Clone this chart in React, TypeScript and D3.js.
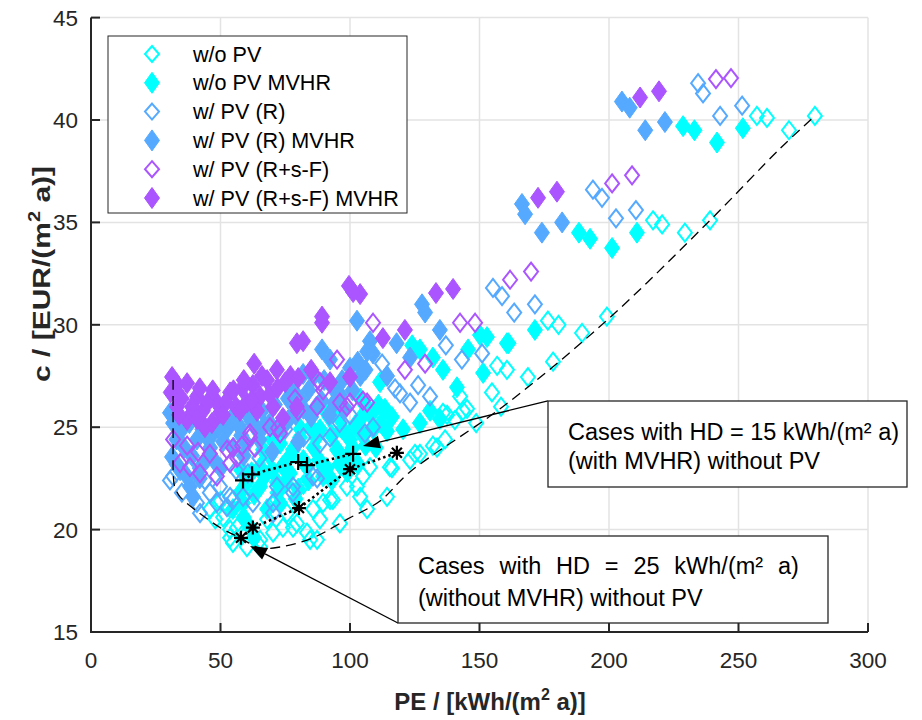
import React, { useEffect, useRef } from 'react';
import * as d3 from 'd3';

type Pt = [number, number];

const xTicks = [0, 50, 100, 150, 200, 250, 300];
const yTicks = [15, 20, 25, 30, 35, 40, 45];

// w/o PV (hollow cyan)
const woPV: Pt[] = [
  [257.1, 40.2], [261, 40.1], [269.5, 39.5], [279.5, 40.2],
  [217, 35.1], [220.5, 34.9], [229.3, 34.5], [239, 35.1],
  [176.4, 30.2], [180.5, 30.0], [189.6, 29.6], [199.2, 30.4], [178.4, 28.2], [168.7, 27.45],
  [156.8, 28.0], [160.6, 27.8], [154.8, 26.7], [158.3, 26.0], [148.7, 25.2], [142.5, 26.5],
  [135.9, 25.7], [143.6, 25.8], [137.5, 25.6], [140.5, 25.35], [132, 24.1], [136.7, 24.4],
  [125.1, 23.7], [133.6, 24.0], [116.2, 23.0], [123.2, 23.4], [145.2, 25.9], [127, 23.7],
  [115.4, 23.05], [114.3, 21.6], [106.6, 21.0],
  [51, 20.6], [56.4, 20.1], [53.7, 20.0], [58.7, 19.8], [54.8, 19.35], [60.2, 19.15],
  [53.7, 19.6], [65.3, 19.15], [70.3, 19.85], [78, 20.1], [84.6, 19.5], [88.4, 20.5],
  [96.1, 20.3], [93.4, 21.45], [103.9, 21.6], [107.7, 23.05], [98.8, 22.1], [68, 20.5],
  [75.7, 20.8], [85.7, 21.0], [71.8, 21.45], [89.6, 21.3], [92.3, 21.45], [102.7, 22.1],
  [79.5, 20.3], [83.4, 19.85], [87.3, 19.5], [74.1, 20.1], [65.3, 19.5], [105, 22.6],
  [46, 21.0], [48, 20.5], [50, 21.4], [95, 22.9], [99, 23.3], [82, 22.2],
];

// w/o PV MVHR (filled cyan)
const woPVMvhr: Pt[] = [
  [228.6, 39.7], [233, 39.5], [241.7, 38.9], [251.7, 39.6],
  [188.4, 34.5], [192.7, 34.2], [201.2, 33.75], [210.8, 34.5],
  [150.2, 29.5], [152.9, 29.4], [171.4, 29.75], [161.2, 29.1], [151.4, 27.65], [141.3, 26.95],
  [127, 28.8], [132, 28.4], [135.9, 27.8], [124, 29.0], [111.6, 27.2], [113.5, 25.9],
  [145.6, 28.8], [130.9, 25.8], [134.7, 25.4], [127, 25.2], [120.5, 24.9], [114.3, 24.8],
  [116.2, 25.5], [160.6, 29.1],
  [88.4, 24.9], [80.7, 24.5], [73, 24.2], [66.4, 23.9], [95, 23.9], [83.4, 23.05],
  [76.8, 22.75], [71.8, 22.3], [89.6, 22.6], [98.8, 23.55], [65.3, 23.05], [65.3, 22.1],
  [68, 21.0], [73, 21.3], [61.4, 20.1], [57.5, 21.8], [58.7, 21.3], [54.8, 21.0],
  [60.2, 22.3], [105, 24.6], [108, 25.6], [102, 25.1], [92, 25.5], [77, 23.6], [86, 24.0],
  [70, 22.9], [62, 22.8], [80, 22.0], [93, 22.4], [100, 24.4], [110, 24.0], [63, 19.6], [59, 20.6],
  [58, 22.9], [63, 21.7], [67, 22.6], [69, 23.6], [72, 21.8], [74, 23.1], [78, 23.9], [79, 21.5],
  [82, 23.4], [84, 22.4], [87, 24.5], [88, 23.4], [91, 23.0], [93, 24.6], [96, 23.2], [97, 24.9],
  [99, 22.8], [101, 24.0], [103, 23.2], [104, 25.4], [106, 24.1], [107, 25.9], [109, 24.9],
  [111, 26.1], [112, 25.2], [85, 25.0], [75, 22.3], [90, 25.9], [95, 25.6], [81, 24.9],
  [70, 24.4], [104, 26.4],
];

// w/ PV (R) (hollow blue)
const wPVR: Pt[] = [
  [234.4, 41.8], [236.3, 41.3], [242.9, 40.2], [251.4, 40.7],
  [193.8, 36.6], [197.3, 36.2], [202.7, 35.2], [210.4, 35.6],
  [155.2, 31.8], [158.7, 31.4], [163.4, 30.6], [171.4, 31.0], [143.2, 28.3], [137, 29.0],
  [151, 28.6], [112.4, 28.1], [126.3, 27.05], [117.4, 26.9], [119.3, 26.65], [123.2, 26.2],
  [130.9, 26.5], [108.9, 25.0], [105.8, 24.7],
  [60.6, 22.75], [88.4, 24.2], [92.3, 24.5], [87.3, 22.5], [78, 22.1], [70.3, 21.3],
  [58.7, 21.6], [62.5, 21.3], [31.7, 22.6], [35.1, 21.8], [40.9, 21.3], [42.1, 20.8],
  [45.9, 21.8], [49.8, 22.1], [53.7, 21.6], [48.6, 21.3], [52.5, 21.1], [54.8, 21.45],
  [70.3, 20.8], [78, 21.8], [85.7, 22.6], [71.8, 22.1], [30.5, 22.4],
  [38, 22.9], [44, 22.4], [56, 22.9], [65, 23.5], [75, 24.9], [82, 24.5], [96, 25.2], [100, 25.6],
];

// w/ PV (R) MVHR (filled blue)
const wPVRMvhr: Pt[] = [
  [205, 40.9], [208, 40.6], [214, 39.5], [221.6, 39.9],
  [166.4, 35.9], [167.6, 35.4], [174.1, 34.5], [181.9, 35.0],
  [127.8, 31.0], [129, 30.6], [134.7, 29.75], [118, 29.1], [107.7, 29.2], [106.6, 28.7],
  [108.9, 28.6], [114.3, 27.5], [123.2, 28.4],
  [102.7, 30.2], [89.2, 28.8], [92.3, 28.3], [81.9, 27.6], [96.1, 26.6],
  [30.5, 25.7], [31.7, 25.2], [35.1, 24.9], [40.9, 24.4], [47.1, 24.7], [52.5, 24.9],
  [57.5, 25.0], [31.3, 23.55], [34.4, 22.9], [38.2, 22.1], [39.4, 21.6], [44.8, 24.5],
  [62, 25.3], [67, 25.1], [72, 24.9], [77, 25.5], [82, 25.9], [87, 26.0], [92, 25.6],
  [98, 25.9], [104, 27.5], [100, 27.9], [84, 26.8], [65, 24.4], [55, 24.0], [45, 23.5],
  [50, 23.0], [60, 24.2], [70, 23.8], [80, 24.3], [42, 22.5], [36, 24.0], [93, 27.0], [76, 26.4],
  [33, 24.4], [38, 25.2], [39, 23.6], [43, 24.9], [46, 24.0], [49, 25.0], [51, 24.3], [54, 25.4],
  [58, 24.6], [61, 25.5], [64, 24.9], [66, 25.8], [69, 25.2], [71, 26.1], [74, 25.0], [79, 25.6],
  [81, 26.3], [85, 25.5], [89, 26.3], [90, 27.3], [94, 26.2], [97, 27.3], [101, 26.8], [103, 28.2],
  [106, 27.8], [86, 27.5], [78, 26.8], [59, 23.6], [48, 23.3], [42, 23.0], [37, 22.6], [33, 23.2],
];

// w/ PV (R+s-F) (hollow purple)
const wPVRsF: Pt[] = [
  [241.3, 42.0], [247.1, 42.05],
  [201.2, 36.9], [208.9, 37.3],
  [161.8, 32.2], [169.9, 32.6], [142.5, 30.1], [148.3, 30.1], [108.9, 30.1], [129, 28.1],
  [121.2, 27.8], [106.6, 26.2],
  [95, 28.3], [87.6, 27.3], [89.6, 26.8], [78.8, 26.4], [79.9, 25.8], [96.1, 26.2],
  [100, 26.2], [87.3, 26.0], [72.2, 24.95], [61.4, 24.7], [63.3, 24.0], [58.3, 24.1],
  [31.7, 24.4], [37.1, 24.1], [34.4, 23.25], [38.2, 23.05], [42.1, 22.75], [41.3, 23.8],
  [45.9, 23.7], [52.5, 23.9], [56.4, 23.5], [48.6, 22.6], [53.7, 23.25],
  [69.1, 25.0], [73, 24.7], [88.4, 27.2], [98.8, 26.0], [105, 26.3], [54.8, 24.0], [61.4, 24.5],
];

// w/ PV (R+s-F) MVHR (filled purple)
const wPVRsFMvhr: Pt[] = [
  [212, 41.1], [219.3, 41.4],
  [172.6, 36.2], [179.9, 36.5],
  [133.2, 31.55], [139.8, 31.75], [121.2, 29.75], [112.7, 29.35], [103.9, 31.5],
  [99.6, 31.9], [101.2, 31.6], [89.2, 30.1], [89.2, 30.4], [81.9, 29.2], [79.5, 29.1],
  [71.8, 27.8], [62.5, 27.06], [65.3, 26.5], [60.2, 26.2], [64.1, 25.8], [70.3, 26.0],
  [79.5, 26.0], [74.1, 25.45], [100, 27.45], [92.3, 27.2],
  [31.3, 27.45], [33.2, 27.1], [37.1, 27.15], [40.9, 26.5], [43.2, 25.8], [46.7, 25.2],
  [49.8, 25.7], [53.7, 26.7], [58.3, 26.9], [48.6, 26.2], [33.2, 26.0], [37.1, 25.35],
  [44, 25], [52, 26.2], [56, 26.0], [68, 27.3], [75, 27.2], [85, 27.8], [57.5, 25.8], [30.8, 26.7],
  [35, 26.4], [39, 26.0], [42, 26.9], [45, 26.2], [47, 26.8], [51, 25.6], [55, 26.8], [59, 27.3],
  [62, 26.3], [66, 27.5], [69, 26.6], [72, 26.9], [77, 27.5], [34, 25.6], [41, 25.4], [63, 28.1],
  [80, 27.4],
];

// Pareto front (dashed)
const pareto: Pt[] = [
  [31.7, 27.3], [31.7, 24.5], [31.8, 22.6], [32.3, 22.1], [34.4, 21.6], [40.9, 20.9],
  [49.8, 20.1], [57.5, 19.6], [65.3, 19.1], [73, 19.15], [85.7, 19.6], [98.8, 20.5],
  [111.6, 21.4], [123, 22.8], [159, 26.0], [199, 30.2], [239, 35.1], [266, 38.6], [279.5, 40.2],
];

// HD = 15 with MVHR (+) and HD = 25 without MVHR (*)
const hd15: Pt[] = [[58.7, 22.4], [62.2, 22.7], [80, 23.3], [83.4, 23.15], [101.2, 23.7]];
const hd25: Pt[] = [[57.9, 19.6], [62.5, 20.1], [80.3, 21.05], [100, 22.95], [118.1, 23.75]];

// arrow tips / tails in data units
const arrow15 = { from: [176.4, 26.28] as Pt, to: [105, 24.08] as Pt };
const arrow25 = { from: [118.5, 15.44] as Pt, to: [61.4, 19.2] as Pt };

const series = [
  { name: 'w/o PV', color: '#00ffff', filled: false, data: woPV },
  { name: 'w/o PV MVHR', color: '#00ffff', filled: true, data: woPVMvhr },
  { name: 'w/ PV (R)', color: '#55aaff', filled: false, data: wPVR },
  { name: 'w/ PV (R) MVHR', color: '#55aaff', filled: true, data: wPVRMvhr },
  { name: 'w/ PV (R+s-F)', color: '#aa55ff', filled: false, data: wPVRsF },
  { name: 'w/ PV (R+s-F) MVHR', color: '#aa55ff', filled: true, data: wPVRsFMvhr },
];

const FONT = '"Liberation Sans", Arial, Helvetica, sans-serif';
const INK = '#262626';

function diamond(w: number, h: number) {
  return `M0,${-h}L${w},0L0,${h}L${-w},0Z`;
}

export default function App() {
  const svgRef = useRef<SVGSVGElement>(null);

  useEffect(() => {
    const width = 922;
    const height = 720;
    const svg = d3.select(svgRef.current);
    svg.selectAll('*').remove();
    svg.attr('width', width).attr('height', height);

    const x = d3.scaleLinear().domain([0, 300]).range([91, 868]);
    const y = d3.scaleLinear().domain([15, 45]).range([632, 17.6]);

    svg.append('rect').attr('width', width).attr('height', height).attr('fill', '#fff');

    // grid
    const grid = svg.append('g').attr('stroke', '#e3e3e3').attr('stroke-width', 1.5);
    xTicks.slice(1).forEach(t => {
      grid.append('line').attr('x1', x(t)).attr('x2', x(t)).attr('y1', y(15)).attr('y2', y(45));
    });
    yTicks.slice(1).forEach(t => {
      grid.append('line').attr('x1', x(0)).attr('x2', x(300)).attr('y1', y(t)).attr('y2', y(t));
    });

    // markers
    const marks = svg.append('g');
    series.forEach(s => {
      marks.append('g')
        .selectAll('path')
        .data(s.data)
        .enter()
        .append('path')
        .attr('transform', d => `translate(${x(d[0])},${y(d[1])})`)
        .attr('d', s.filled ? diamond(7.5, 10.5) : diamond(7, 9))
        .attr('fill', s.filled ? s.color : 'none')
        .attr('stroke', s.color)
        .attr('stroke-width', s.filled ? 1 : 2);
    });

    // pareto dashed line
    svg.append('path')
      .datum(pareto)
      .attr('d', d3.line<Pt>().x(d => x(d[0])).y(d => y(d[1])).curve(d3.curveCatmullRom))
      .attr('fill', 'none')
      .attr('stroke', '#000')
      .attr('stroke-width', 1.3)
      .attr('stroke-dasharray', '10,6');

    // dotted HD lines
    [hd15, hd25].forEach(d => {
      svg.append('path')
        .datum(d)
        .attr('d', d3.line<Pt>().x(p => x(p[0])).y(p => y(p[1])))
        .attr('fill', 'none')
        .attr('stroke', '#000')
        .attr('stroke-width', 2.6)
        .attr('stroke-dasharray', '2.5,3');
    });

    // + markers
    svg.append('g').selectAll('path').data(hd15).enter().append('path')
      .attr('transform', d => `translate(${x(d[0])},${y(d[1])})`)
      .attr('d', 'M-8,0H8M0,-8V8')
      .attr('stroke', '#000').attr('stroke-width', 2.2);

    // * markers
    svg.append('g').selectAll('path').data(hd25).enter().append('path')
      .attr('transform', d => `translate(${x(d[0])},${y(d[1])})`)
      .attr('d', 'M-7,0H7M0,-7V7M-5,-5L5,5M-5,5L5,-5')
      .attr('stroke', '#000').attr('stroke-width', 2.2);

    // axes
    const ax = svg.append('g').attr('stroke', INK).attr('stroke-width', 2);
    ax.append('line').attr('x1', x(0)).attr('x2', x(0)).attr('y1', y(15) + 1).attr('y2', y(45));
    ax.append('line').attr('x1', x(0) - 1).attr('x2', x(300)).attr('y1', y(15)).attr('y2', y(15));
    yTicks.forEach(t => {
      ax.append('line').attr('x1', x(0)).attr('x2', x(0) + 9).attr('y1', y(t)).attr('y2', y(t));
    });
    xTicks.forEach(t => {
      ax.append('line').attr('x1', x(t)).attr('x2', x(t)).attr('y1', y(15)).attr('y2', y(15) - 9);
    });

    const tl = svg.append('g').attr('font-family', FONT).attr('font-size', 22.5).attr('fill', INK);
    yTicks.forEach(t => {
      tl.append('text').attr('x', 78).attr('y', y(t) + 8).attr('text-anchor', 'end').text(t);
    });
    xTicks.forEach(t => {
      tl.append('text').attr('x', x(t)).attr('y', 668).attr('text-anchor', 'middle').text(t);
    });

    // axis labels
    const xl = svg.append('text')
      .attr('x', 490).attr('y', 710).attr('text-anchor', 'middle')
      .attr('font-family', FONT).attr('font-size', 24).attr('font-weight', 'bold').attr('fill', INK);
    xl.append('tspan').text('PE / [kWh/(m');
    xl.append('tspan').attr('font-size', 16).attr('dy', -10).text('2');
    xl.append('tspan').attr('dy', 10).text(' a)]');

    const yl = svg.append('text')
      .attr('transform', 'translate(50,274) rotate(-90) scale(1.25,1)')
      .attr('text-anchor', 'middle')
      .attr('font-family', FONT).attr('font-size', 24).attr('font-weight', 'bold').attr('fill', INK);
    yl.append('tspan').text('c / [EUR/(m');
    yl.append('tspan').attr('font-size', 16).attr('dy', -10).text('2');
    yl.append('tspan').attr('dy', 10).text(' a)]');

    // legend
    const lg = svg.append('g');
    lg.append('rect').attr('x', 108).attr('y', 36).attr('width', 299).attr('height', 177)
      .attr('fill', '#fff').attr('stroke', INK).attr('stroke-width', 1);
    series.forEach((s, i) => {
      const cy = 54 + i * 28.8;
      lg.append('path')
        .attr('transform', `translate(152,${cy})`)
        .attr('d', s.filled ? diamond(7.5, 10.5) : diamond(7, 8))
        .attr('fill', s.filled ? s.color : 'none')
        .attr('stroke', s.color)
        .attr('stroke-width', s.filled ? 1 : 2);
      lg.append('text').attr('x', 193).attr('y', cy + 7.5)
        .attr('font-family', FONT).attr('font-size', 21.6).attr('fill', '#000').text(s.name);
    });

    // annotations
    const drawArrow = (from: Pt, to: Pt) => {
      const x0 = x(from[0]), y0 = y(from[1]), x1 = x(to[0]), y1 = y(to[1]);
      const ang = Math.atan2(y1 - y0, x1 - x0);
      const L = 17, W = 6.5;
      const bx = x1 - L * Math.cos(ang), by = y1 - L * Math.sin(ang);
      svg.append('line').attr('x1', x0).attr('y1', y0).attr('x2', bx).attr('y2', by)
        .attr('stroke', '#000').attr('stroke-width', 1.3);
      const px = -Math.sin(ang) * W, py = Math.cos(ang) * W;
      svg.append('path')
        .attr('d', `M${x1},${y1}L${bx + px},${by + py}L${bx - px},${by - py}Z`)
        .attr('fill', '#000');
    };
    drawArrow(arrow15.from, arrow15.to);
    drawArrow(arrow25.from, arrow25.to);

    const box = (bx: number, by: number, bw: number, bh: number) =>
      svg.append('rect').attr('x', bx).attr('y', by).attr('width', bw).attr('height', bh)
        .attr('fill', '#fff').attr('stroke', INK).attr('stroke-width', 1.3);
    box(548, 401, 359, 86);
    box(398, 536, 430, 87);

    const at = svg.append('g').attr('font-family', FONT).attr('font-size', 23.5).attr('fill', '#000');
    at.append('text').attr('x', 568).attr('y', 439.5).text('Cases with HD = 15 kWh/(m² a)');
    at.append('text').attr('x', 568).attr('y', 469).text('(with MVHR) without PV');
    at.append('text').attr('x', 418).attr('y', 573.5)
      .attr('word-spacing', 8.3)
      .text('Cases with HD = 25 kWh/(m² a)');
    at.append('text').attr('x', 418).attr('y', 605.5).text('(without MVHR) without PV');
  }, []);

  return (
    <svg ref={svgRef} style={{ position: 'absolute', left: 0, top: 0 }}></svg>
  );
}
